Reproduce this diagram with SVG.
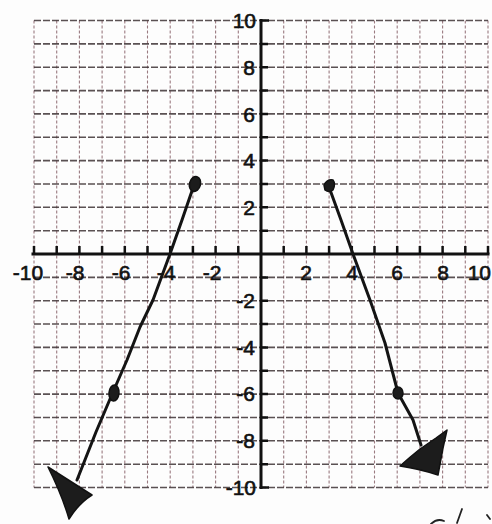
<svg xmlns="http://www.w3.org/2000/svg" width="492" height="524" viewBox="0 0 492 524">
  <style>
    .vgrid { stroke: #9a7a80; stroke-width: 1.1; stroke-dasharray: 3 2; fill: none; }
    .hgrid { stroke: #3d3335; stroke-width: 1.6; stroke-dasharray: 7 2; fill: none; opacity: 0.85; }
    .axis { stroke: #111; stroke-width: 3; fill: none; stroke-linecap: square; }
    .tick { stroke: #111; stroke-width: 2.5; fill: none; }
    .lbl { font-family: "Liberation Sans", "DejaVu Sans", sans-serif; font-size: 21px; fill: #111; stroke: #111; stroke-width: 0.6; }
    .ink { stroke: #141414; stroke-width: 3; fill: none; stroke-linecap: round; stroke-linejoin: round; }
    .blob { fill: #1c1c1c; stroke: #111; stroke-width: 1.5; stroke-linejoin: round; }
    .hand { stroke: #222; stroke-width: 1.8; fill: none; stroke-linecap: round; }
  </style>
  <rect width="492" height="524" fill="#fdfdfd"/>

  <g id="grid">
    <path class="vgrid" d="M34 20.5V487.5M56.7 20.5V487.5M79.4 20.5V487.5M102.1 20.5V487.5M124.8 20.5V487.5M147.5 20.5V487.5M170.2 20.5V487.5M192.9 20.5V487.5M215.6 20.5V487.5M238.3 20.5V487.5M283.7 20.5V487.5M306.4 20.5V487.5M329.1 20.5V487.5M351.8 20.5V487.5M374.5 20.5V487.5M397.2 20.5V487.5M419.9 20.5V487.5M442.6 20.5V487.5M465.3 20.5V487.5M488 20.5V487.5"/>
    <path class="hgrid" d="M34 20.5H488M34 43.9H488M34 67.2H488M34 90.6H488M34 113.9H488M34 137.3H488M34 160.6H488M34 184H488M34 207.3H488M34 230.7H488M34 277.4H488M34 300.7H488M34 324H488M34 347.4H488M34 370.8H488M34 394.1H488M34 417.5H488M34 440.8H488M34 464.2H488M34 487.5H488"/>
  </g>

  <g id="axes">
    <path class="axis" d="M33 254H488M261 20.5V487.5"/>
    <path class="tick" d="M34 254V246M56.7 254V246M79.4 254V246M102.1 254V246M124.8 254V246M147.5 254V246M170.2 254V246M192.9 254V246M215.6 254V246M238.3 254V246M283.7 254V246M306.4 254V246M329.1 254V246M351.8 254V246M374.5 254V246M397.2 254V246M419.9 254V246M442.6 254V246M465.3 254V246M488 254V246"/>
    <path class="tick" d="M261 20.5H269M261 43.9H268M261 67.2H268M261 90.6H268M261 113.9H268M261 137.3H268M261 160.6H268M261 184H268M261 207.3H268M261 230.7H268M261 277.4H268M261 300.7H268M261 324H268M261 347.4H268M261 370.8H268M261 394.1H268M261 417.5H268M261 440.8H268M261 464.2H268M261 487.5H269"/>
  </g>

  <g id="x-labels" class="lbl" text-anchor="middle">
    <text x="28" y="280">-10</text>
    <text x="75" y="280">-8</text>
    <text x="121" y="280">-6</text>
    <text x="166" y="280">-4</text>
    <text x="212" y="280">-2</text>
    <text x="306" y="280">2</text>
    <text x="352" y="280">4</text>
    <text x="397" y="280">6</text>
    <text x="443" y="280">8</text>
    <text x="491" y="280" text-anchor="end">10</text>
  </g>

  <g id="y-labels" class="lbl" text-anchor="end">
    <text x="256" y="28">10</text>
    <text x="255" y="75">8</text>
    <text x="255" y="122">6</text>
    <text x="255" y="168">4</text>
    <text x="255" y="215">2</text>
    <text x="255" y="308">-2</text>
    <text x="255" y="355">-4</text>
    <text x="255" y="401">-6</text>
    <text x="255" y="448">-8</text>
    <text x="256" y="495">-10</text>
  </g>

  <g id="left-ray">
    <path class="ink" d="M194 185L182 220L170 254L153 300L140 327L127 360L113 392L96 432L77 480"/>
    <ellipse class="blob" cx="195" cy="184" rx="5.5" ry="7.5" transform="rotate(15 195 184)"/>
    <ellipse class="blob" cx="114" cy="393" rx="5" ry="8" transform="rotate(5 114 393)"/>
    <path class="blob" d="M48 467L92 495Q79 503 69 519Q62 495 48 467Z"/>
  </g>

  <g id="right-ray">
    <path class="ink" d="M329 187L341 220L353 254L370 300L385 343L398 393L413 420L421 445"/>
    <path class="blob" d="M324 185Q327 179 333 180Q336 184 333 190Q329 193 325 190Z"/>
    <ellipse class="blob" cx="398" cy="393" rx="5" ry="6"/>
    <path class="blob" d="M400 466Q410 457 420 449L436 438L447 430L443 448L438 475Q420 469 400 466Z"/>
  </g>

  <g id="handwriting">
    <path class="hand" d="M431 524Q437 518 444 521M462 509L457 523M487 515L490 519"/>
  </g>
</svg>
